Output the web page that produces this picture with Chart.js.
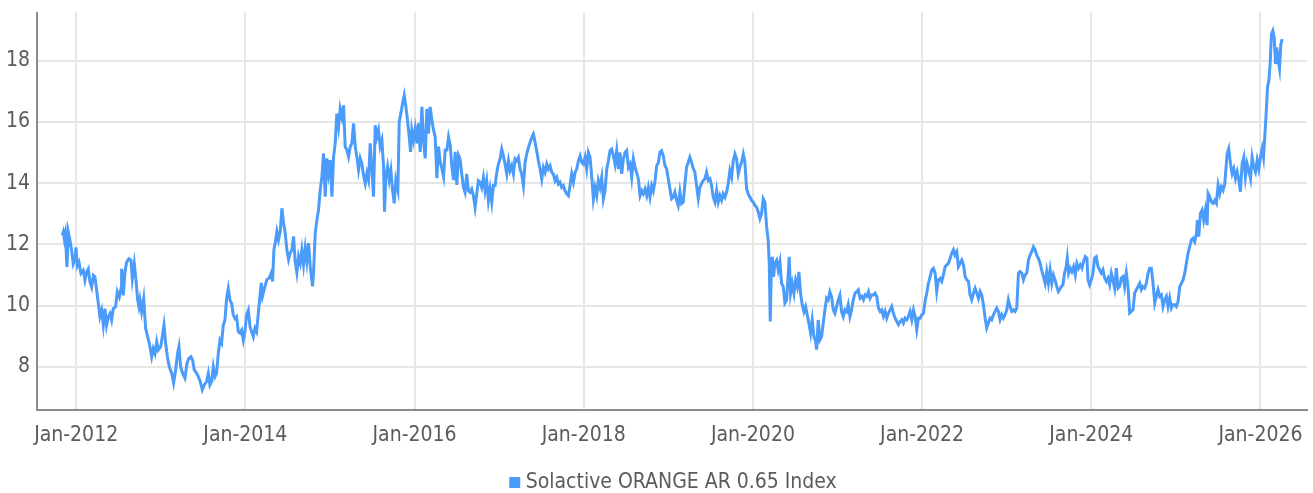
<!DOCTYPE html>
<html>
<head>
<meta charset="utf-8">
<title>Solactive ORANGE AR 0.65 Index</title>
<script src="https://cdn.jsdelivr.net/npm/chart.js@4.4.1/dist/chart.umd.min.js"></script>
<style>
  html, body { margin: 0; padding: 0; background: #fff; }
  #wrap { width: 1313px; height: 493px; position: relative; }
</style>
</head>
<body>
<div id="wrap"><canvas id="indexChart"></canvas></div>
<script>
// -------------------------------
// DATA (dates are decimal years, values are index levels)
// -------------------------------
const seriesName = "Solactive ORANGE AR 0.65 Index";

const dates = [
  // 2011 - 2014
  2011.836,2011.848,2011.860,2011.872,2011.891,2011.907,2011.927,2011.946,2011.966,2011.986,
  2011.998,2012.013,2012.033,2012.057,2012.084,2012.104,2012.124,2012.143,2012.163,2012.183,
  2012.203,2012.222,2012.242,2012.262,2012.281,2012.301,2012.321,2012.340,2012.360,2012.380,
  2012.400,2012.419,2012.439,2012.466,2012.486,2012.510,2012.530,2012.537,2012.557,2012.577,
  2012.597,2012.624,2012.648,2012.664,2012.687,2012.707,2012.727,2012.742,2012.754,2012.774,
  2012.798,2012.821,2012.845,2012.865,2012.893,2012.912,2012.932,2012.952,2012.971,2012.999,
  2013.018,2013.038,2013.058,2013.078,2013.101,2013.129,2013.152,2013.176,2013.199,2013.215,
  2013.235,2013.258,2013.286,2013.310,2013.333,2013.357,2013.377,2013.396,2013.424,2013.444,
  2013.467,2013.491,2013.514,2013.542,2013.562,2013.581,2013.601,2013.621,2013.641,2013.660,
  2013.680,2013.700,2013.719,2013.739,2013.759,2013.778,2013.798,2013.818,2013.838,2013.857,
  2013.877,2013.897,2013.916,2013.936,2013.956,2013.976,2013.995,2014.015,2014.035,2014.055,
  2014.074,2014.094,2014.114,2014.133,2014.153,
  // 2014 - 2016
  2014.188,2014.203,2014.227,2014.255,2014.282,2014.306,2014.322,2014.337,2014.353,2014.373,
  2014.392,2014.412,2014.432,2014.452,2014.471,2014.491,2014.511,2014.530,2014.550,2014.570,
  2014.589,2014.609,2014.629,2014.649,2014.668,2014.688,2014.708,2014.727,2014.747,2014.767,
  2014.794,2014.806,2014.826,2014.846,2014.865,2014.885,2014.905,2014.924,2014.944,2014.964,
  2014.983,2015.003,2015.023,2015.043,2015.062,2015.082,2015.102,2015.121,2015.141,2015.161,
  2015.180,2015.200,2015.220,2015.240,2015.259,2015.279,2015.299,2015.318,2015.338,2015.358,
  2015.377,2015.397,2015.417,2015.437,2015.456,2015.476,2015.496,2015.515,2015.535,2015.555,
  2015.574,2015.594,2015.614,2015.634,2015.645,2015.661,2015.681,2015.701,2015.720,2015.740,
  2015.760,2015.779,2015.803,2015.819,2015.838,2015.858,2015.878,2015.898,2015.917,2015.937,
  2015.953,2015.968,2015.988,2016.008,2016.028,2016.047,2016.067,2016.087,2016.106,2016.126,
  2016.146,2016.165,2016.185,2016.205,2016.225,2016.244,2016.264,2016.284,2016.303,2016.323,
  2016.343,2016.362,2016.382,2016.402,2016.422,2016.441,2016.461,2016.481,2016.500,2016.520,
  // 2016 - 2018
  2016.538,2016.558,2016.578,2016.597,2016.617,2016.637,2016.656,2016.676,2016.696,2016.716,
  2016.735,2016.755,2016.775,2016.794,2016.814,2016.834,2016.853,2016.873,2016.893,2016.913,
  2016.932,2016.952,2016.972,2016.991,2017.011,2017.031,2017.050,2017.070,2017.090,2017.110,
  2017.129,2017.149,2017.169,2017.188,2017.208,2017.228,2017.247,2017.267,2017.287,2017.307,
  2017.326,2017.346,2017.366,2017.385,2017.405,2017.425,2017.444,2017.464,2017.484,2017.504,
  2017.523,2017.543,2017.563,2017.582,2017.602,2017.622,2017.641,2017.661,2017.681,2017.701,
  2017.720,2017.740,2017.760,2017.779,2017.799,2017.819,2017.838,2017.858,2017.878,2017.898,
  2017.917,2017.937,2017.957,2017.976,2017.996,2018.016,2018.035,2018.055,2018.075,2018.095,
  2018.114,2018.134,2018.154,2018.173,2018.193,2018.213,2018.232,2018.252,2018.272,2018.292,
  2018.311,2018.331,2018.351,2018.370,2018.390,2018.410,2018.429,2018.449,2018.469,2018.489,
  2018.508,2018.528,2018.548,2018.567,2018.587,2018.607,2018.626,2018.646,2018.666,2018.686,
  2018.705,2018.725,2018.745,2018.764,2018.784,2018.804,2018.823,2018.843,2018.863,2018.883,
  // 2018 - 2021
  2018.901,2018.920,2018.940,2018.960,2018.980,2018.999,2019.019,2019.039,2019.058,2019.078,
  2019.098,2019.117,2019.137,2019.157,2019.177,2019.196,2019.216,2019.236,2019.255,2019.275,
  2019.295,2019.314,2019.334,2019.354,2019.374,2019.393,2019.413,2019.433,2019.452,2019.472,
  2019.492,2019.511,2019.531,2019.551,2019.571,2019.590,2019.610,2019.630,2019.649,2019.669,
  2019.689,2019.708,2019.728,2019.748,2019.768,2019.787,2019.807,2019.827,2019.846,2019.866,
  2019.886,2019.905,2019.925,2019.945,2019.965,2019.984,2020.004,2020.024,2020.043,2020.063,
  2020.083,2020.102,2020.122,2020.142,2020.162,2020.181,2020.193,2020.205,2020.217,2020.229,
  2020.244,2020.260,2020.280,2020.299,2020.319,2020.339,2020.359,2020.378,2020.398,2020.418,
  2020.429,2020.445,2020.465,2020.485,2020.504,2020.524,2020.544,2020.563,2020.583,2020.603,
  2020.623,2020.642,2020.662,2020.682,2020.701,2020.721,2020.741,2020.753,2020.772,2020.792,
  2020.812,2020.831,2020.851,2020.871,2020.890,2020.910,2020.930,2020.950,2020.969,2020.989,
  2021.009,2021.028,2021.048,2021.068,2021.087,2021.107,2021.127,2021.147,2021.166,2021.186,
  2021.206,2021.225,2021.245,
  // 2021 - 2023
  2021.267,2021.287,2021.307,2021.326,2021.346,2021.366,2021.385,2021.405,2021.425,2021.444,
  2021.464,2021.484,2021.504,2021.523,2021.543,2021.563,2021.582,2021.602,2021.622,2021.641,
  2021.661,2021.681,2021.701,2021.720,2021.740,2021.760,2021.779,2021.799,2021.819,2021.838,
  2021.858,2021.878,2021.898,2021.917,2021.937,2021.957,2021.976,2021.996,2022.016,2022.035,
  2022.055,2022.075,2022.095,2022.114,2022.134,2022.154,2022.173,2022.193,2022.213,2022.232,
  2022.252,2022.272,2022.292,2022.311,2022.331,2022.351,2022.370,2022.390,2022.410,2022.429,
  2022.449,2022.469,2022.489,2022.508,2022.528,2022.548,2022.567,2022.587,2022.607,2022.626,
  2022.646,2022.666,2022.686,2022.705,2022.725,2022.745,2022.764,2022.784,2022.804,2022.823,
  2022.843,2022.863,2022.883,2022.902,2022.922,2022.942,2022.961,2022.981,2023.001,2023.020,
  2023.040,2023.060,2023.080,2023.099,2023.119,2023.139,2023.158,2023.178,2023.198,2023.217,
  2023.237,2023.257,2023.277,2023.296,2023.316,2023.336,2023.355,2023.375,2023.395,2023.414,
  2023.434,2023.454,2023.473,2023.493,2023.513,2023.533,2023.552,2023.572,2023.592,2023.611,
  // 2023 - 2026
  2023.625,2023.645,2023.665,2023.684,2023.704,2023.716,2023.732,2023.751,2023.771,2023.791,
  2023.811,2023.830,2023.850,2023.870,2023.890,2023.909,2023.929,2023.949,2023.961,2023.980,
  2024.000,2024.020,2024.039,2024.059,2024.079,2024.099,2024.118,2024.138,2024.158,2024.178,
  2024.197,2024.217,2024.237,2024.256,2024.276,2024.296,2024.316,2024.335,2024.355,2024.375,
  2024.394,2024.414,2024.434,2024.454,2024.473,2024.493,2024.513,2024.533,2024.552,2024.572,
  2024.592,2024.611,2024.631,2024.651,2024.671,2024.690,2024.710,2024.730,2024.750,2024.769,
  2024.789,2024.809,2024.828,2024.848,2024.868,2024.888,2024.907,2024.927,2024.947,2024.966,
  2024.986,2025.006,2025.026,2025.045,2025.065,2025.085,2025.105,2025.124,2025.144,2025.164,
  2025.183,2025.203,2025.223,2025.243,2025.254,2025.270,2025.290,2025.310,2025.329,2025.349,
  2025.369,2025.381,2025.400,2025.420,2025.440,2025.460,2025.479,2025.499,2025.519,2025.538,
  2025.558,2025.578,2025.590,2025.606,2025.625,2025.645,2025.665,2025.684,2025.704,2025.724,
  2025.744,2025.763,2025.783,2025.803,2025.822,2025.842,2025.862,2025.882,2025.901,2025.921,
  2025.941,2025.961,2025.980,2026.000,2026.020,2026.036,2026.051,2026.067,2026.083,2026.099,
  2026.114,2026.130,2026.146,2026.162,2026.178,2026.193,2026.209,2026.225,2026.241,2026.256
];

const values = [
  // 2011 - 2014
  12.29,12.40,12.18,12.35,11.26,12.40,12.13,11.80,11.37,11.53,
  11.90,11.30,11.42,11.05,11.15,10.83,11.10,11.20,10.77,10.60,
  10.99,10.94,10.50,10.07,9.64,9.85,9.36,9.90,9.36,9.64,
  9.74,9.53,9.90,9.96,10.45,10.28,10.56,11.20,10.33,11.10,
  11.42,11.53,11.48,10.88,11.37,10.83,10.18,9.96,10.18,9.80,
  10.23,9.26,8.98,8.77,8.33,8.60,8.44,8.82,8.55,8.66,
  8.98,9.36,8.77,8.33,8.00,7.79,7.47,7.90,8.44,8.66,
  8.00,7.79,7.63,8.11,8.28,8.33,8.22,7.90,7.79,7.68,
  7.52,7.25,7.41,7.52,7.79,7.41,7.52,8.00,7.68,7.79,
  8.44,8.87,8.77,9.36,9.53,10.23,10.56,10.18,10.07,9.70,
  9.58,9.64,9.15,9.10,9.20,8.87,9.15,9.70,9.85,9.31,
  9.15,8.98,9.26,9.15,9.74,
  // 2014 - 2016
  10.74,10.31,10.58,10.85,10.90,11.07,10.79,11.82,12.04,12.42,
  12.15,12.42,13.18,12.69,12.37,11.82,11.50,11.72,11.82,12.26,
  11.44,11.07,11.61,11.39,11.82,11.34,11.88,11.44,12.04,11.28,
  10.63,11.07,12.37,12.80,13.13,13.78,14.21,14.97,13.56,14.81,
  14.32,14.75,13.56,14.86,15.30,16.27,15.84,16.43,16.16,16.54,
  15.19,15.08,14.86,15.19,15.30,15.95,15.19,14.86,14.43,14.81,
  14.64,14.26,13.99,14.32,14.10,15.30,14.43,13.56,15.89,15.51,
  15.73,15.19,15.40,14.54,13.07,14.21,14.54,14.10,14.43,13.78,
  13.34,14.10,13.78,16.00,16.27,16.60,16.87,16.49,16.05,15.51,
  15.02,15.73,15.40,15.78,15.30,15.95,15.02,16.49,15.40,14.81,
  16.43,15.62,16.49,16.05,15.73,15.51,14.16,15.19,14.70,14.48,
  14.21,15.08,15.08,15.51,15.24,14.54,14.10,15.02,13.94,14.91,
  // 2016 - 2018
  14.79,14.30,13.86,13.70,14.30,13.75,13.70,13.81,13.59,13.21,
  13.65,14.08,14.03,13.86,14.19,13.75,14.08,13.43,13.81,13.38,
  13.92,13.92,14.35,14.62,14.79,15.11,14.89,14.62,14.30,14.73,
  14.41,14.57,14.30,14.79,14.73,14.84,14.46,14.30,13.92,14.68,
  14.95,15.16,15.33,15.49,15.60,15.33,15.06,14.73,14.46,14.13,
  14.51,14.35,14.62,14.46,14.57,14.35,14.30,14.08,14.19,13.97,
  14.03,13.86,13.92,13.75,13.65,13.59,13.92,14.30,14.03,14.35,
  14.46,14.73,14.89,14.68,14.62,14.84,14.46,15.00,14.84,14.19,
  13.48,13.86,13.59,14.08,13.86,14.19,13.48,13.75,14.46,14.73,
  15.06,15.11,14.89,14.62,15.06,14.46,15.00,14.30,14.79,15.00,
  15.06,14.51,14.62,14.19,14.79,14.51,14.35,14.13,13.59,13.75,
  13.65,13.81,13.59,13.86,13.54,13.92,13.75,14.08,14.57,14.68,
  // 2018 - 2021
  15.01,15.06,14.90,14.57,14.47,14.14,13.82,13.49,13.54,13.71,
  13.44,13.27,13.71,13.33,13.38,13.98,14.52,14.68,14.85,14.68,
  14.47,14.36,13.92,13.49,13.87,13.98,14.09,14.14,14.36,14.09,
  14.14,13.92,13.54,13.38,13.76,13.38,13.60,13.44,13.65,13.54,
  13.71,13.98,14.41,14.20,14.74,14.95,14.79,14.30,14.52,14.68,
  14.95,14.68,13.82,13.65,13.54,13.44,13.38,13.27,13.22,13.06,
  12.84,13.00,13.49,13.38,12.57,12.13,11.38,9.48,11.16,11.59,
  10.94,11.38,11.48,11.16,11.43,10.72,10.62,10.08,10.18,11.05,
  11.59,10.40,10.72,10.40,10.83,10.62,11.10,10.40,10.03,9.80,
  9.97,9.69,9.42,9.10,9.53,8.99,8.83,8.56,9.53,8.88,
  8.99,9.42,9.86,10.24,10.18,10.45,10.29,9.86,9.75,9.97,
  10.18,10.34,9.80,9.64,9.86,9.80,10.03,9.64,9.86,10.18,
  10.40,10.45,10.51,
  // 2021 - 2023
  10.24,10.30,10.19,10.35,10.30,10.46,10.24,10.35,10.35,10.41,
  10.30,9.92,9.81,9.86,9.65,9.81,9.59,9.75,9.86,9.97,
  9.75,9.59,9.48,9.38,9.48,9.54,9.43,9.59,9.54,9.65,
  9.81,9.54,9.86,9.65,9.21,9.59,9.59,9.70,9.75,10.13,
  10.41,10.73,10.95,11.16,11.22,11.06,10.46,10.84,10.89,10.79,
  11.00,11.27,11.33,11.38,11.54,11.71,11.82,11.65,11.76,11.27,
  11.38,11.49,11.33,10.95,10.84,10.79,10.35,10.19,10.41,10.57,
  10.41,10.24,10.46,10.35,10.03,9.59,9.27,9.43,9.59,9.54,
  9.70,9.81,9.92,9.81,9.54,9.70,9.59,9.70,9.86,10.19,
  9.97,9.81,9.86,9.81,9.92,11.06,11.11,11.06,10.84,11.00,
  11.06,11.49,11.65,11.76,11.92,11.82,11.65,11.54,11.38,11.16,
  10.95,10.73,11.11,10.73,11.16,10.73,11.00,10.84,10.62,10.46,
  // 2023 - 2026
  10.52,10.62,10.68,11.06,11.27,11.55,11.06,11.22,11.11,11.27,
  11.00,11.38,11.22,11.33,11.22,11.44,11.60,11.55,10.84,10.68,
  10.84,11.06,11.55,11.60,11.27,11.17,11.06,11.17,10.90,10.79,
  10.90,10.68,11.06,10.84,10.57,11.22,10.57,10.62,10.90,10.95,
  10.62,11.06,10.62,9.76,9.81,9.86,10.41,10.52,10.62,10.73,
  10.52,10.62,10.57,10.73,11.06,11.22,11.22,10.73,10.08,10.30,
  10.52,10.30,10.35,9.97,10.19,10.30,9.97,10.25,9.92,10.03,
  10.03,9.97,10.14,10.62,10.73,10.84,11.06,11.38,11.71,11.93,
  12.14,12.20,12.09,12.36,12.79,12.25,13.01,13.12,12.79,13.12,
  12.63,13.66,13.55,13.39,13.34,13.44,13.34,13.93,13.66,13.88,
  13.77,13.99,14.42,14.96,15.13,14.64,14.31,14.47,14.15,14.37,
  14.10,13.72,14.64,14.85,14.20,14.64,14.42,14.15,14.85,14.53,
  14.37,14.75,14.47,14.85,15.13,14.85,15.51,16.26,17.13,17.35,
  17.89,18.87,18.98,18.76,17.89,18.43,18.00,17.73,18.54,18.70
];

const xTicks = [2012, 2014, 2016, 2018, 2020, 2022, 2024, 2026];
const xTickLabels = ["Jan-2012", "Jan-2014", "Jan-2016", "Jan-2018", "Jan-2020", "Jan-2022", "Jan-2024", "Jan-2026"];
const yTicks = [8, 10, 12, 14, 16, 18];

// -------------------------------
// STYLE
// -------------------------------
const lineBlue = "#4b9bfb";
const textGrey = "#5b5b5b";
const gridGrey = "#e6e6e6";
const axisGrey = "#8c8c8c";
const labelFont = { family: "'Liberation Sans Narrow', 'DejaVu Sans Condensed', sans-serif", size: 21 };

// nudge the legend so it sits centred under the plot area
const legendShift = {
  id: "legendShift",
  afterLayout(chart) {
    const lg = chart.legend;
    lg.left += 22;
    lg.right += 22;
    lg.top += 10;
    lg.bottom += 10;
  }
};

// -------------------------------
// CHART
// -------------------------------
const ctx = document.getElementById("indexChart");

new Chart(ctx, {
  type: "line",
  data: {
    datasets: [{
      label: seriesName,
      data: dates.map((d, i) => ({ x: d, y: values[i] })),
      borderColor: lineBlue,
      backgroundColor: lineBlue,
      borderWidth: 3,
      pointRadius: 0,
      pointStyle: "rect",
      tension: 0,
      fill: false
    }]
  },
  options: {
    responsive: true,
    maintainAspectRatio: false,
    animation: false,
    layout: { padding: { top: 0, right: 6, left: 0, bottom: 0 } },
    plugins: {
      tooltip: { enabled: false },
      legend: {
        position: "bottom",
        labels: {
          color: textGrey,
          font: labelFont,
          usePointStyle: true,
          boxWidth: 1,
          boxHeight: 11,
          padding: 6,
          generateLabels(chart) {
            const items = Chart.defaults.plugins.legend.labels.generateLabels(chart);
            items.forEach(it => { it.lineWidth = 0; it.strokeStyle = "transparent"; });
            return items;
          }
        }
      }
    },
    scales: {
      x: {
        type: "linear",
        min: 2011.537,
        max: 2026.55,
        afterBuildTicks: s => { s.ticks = xTicks.map(v => ({ value: v })); },
        afterFit: s => { s.height = 46; },
        ticks: {
          color: textGrey,
          font: labelFont,
          padding: 0,
          maxRotation: 0,
          autoSkip: false,
          callback: (v, i) => xTickLabels[i]
        },
        grid: { color: gridGrey, lineWidth: 2, drawTicks: true, tickLength: 13, tickColor: "transparent" },
        border: { color: axisGrey, width: 2 }
      },
      y: {
        min: 6.59,
        max: 19.57,
        afterBuildTicks: s => { s.ticks = yTicks.map(v => ({ value: v })); },
        afterFit: s => { s.width = 37; },
        ticks: {
          color: textGrey,
          font: labelFont,
          padding: 0
        },
        grid: { color: gridGrey, lineWidth: 2, drawTicks: true, tickLength: 7, tickColor: "transparent" },
        border: { color: axisGrey, width: 2 }
      }
    }
  },
  plugins: [legendShift]
});
</script>
</body>
</html>
